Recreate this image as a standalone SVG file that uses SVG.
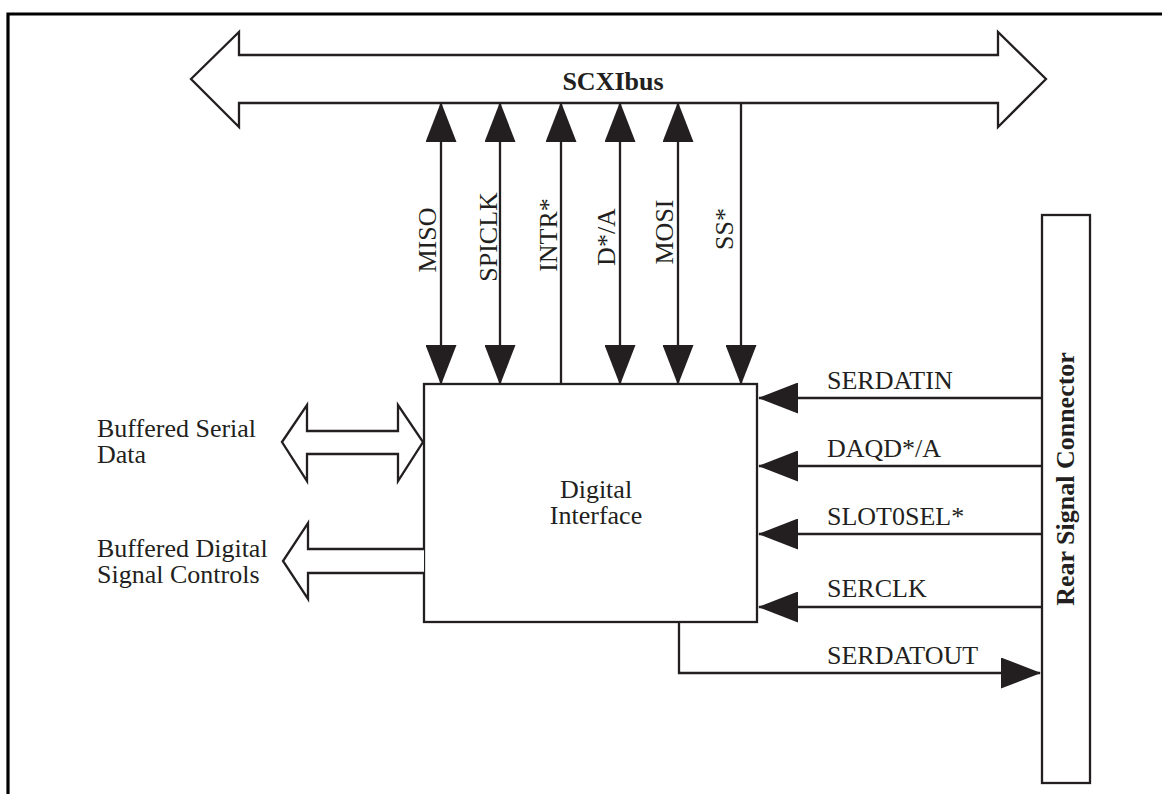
<svg xmlns="http://www.w3.org/2000/svg" width="1162" height="794" viewBox="0 0 1162 794">
<style>
.ln{stroke:#231f20;stroke-width:2.3;fill:none}
.ol{stroke:#231f20;stroke-width:2.3;fill:#fff;stroke-linejoin:miter}
.t{font-family:"Liberation Serif","Times New Roman",serif;font-size:26px;fill:#231f20}
.b{font-weight:bold}
</style>
<defs>
<marker id="ah" markerUnits="userSpaceOnUse" markerWidth="40" markerHeight="31" viewBox="0 0 40 31" refX="39" refY="15.5" orient="auto-start-reverse">
<path d="M0,0 L40,15.5 L0,31 z" fill="#231f20"/>
</marker>
</defs>
<rect width="1162" height="794" fill="#fff"/>
<path d="M8,794 V14 H1162" stroke="#000" stroke-width="3.2" fill="none"/>

<g id="scxibus">
<polygon class="ol" points="191,79 239,32 239,55 998,55 998,32 1046,79 998,127 998,103 239,103 239,127"/>
<text class="t b" x="613" y="90" text-anchor="middle">SCXIbus</text>
</g>

<g id="digital-interface">
<rect class="ol" x="424" y="384" width="333" height="238"/>
<text class="t" text-anchor="middle"><tspan x="596" y="498">Digital</tspan><tspan x="596" y="524">Interface</tspan></text>
</g>

<g id="rear-signal-connector">
<rect class="ol" x="1042" y="215" width="48" height="568"/>
<text class="t b" transform="translate(1074,479) rotate(-90)" text-anchor="middle">Rear Signal Connector</text>
</g>

<g id="buffered-serial-data">
<polygon class="ol" points="282,442 307,405 307,431 398,431 398,405 423,442 398,481 398,454 307,454 307,481"/>
<text class="t"><tspan x="97" y="437">Buffered Serial</tspan><tspan x="97" y="463">Data</tspan></text>
</g>

<g id="buffered-digital-signal-controls">
<path class="ol" d="M424,549 H308 V523 L283,561 L308,599 V573 H424"/>
<text class="t"><tspan x="97" y="557">Buffered Digital</tspan><tspan x="97" y="583">Signal Controls</tspan></text>
</g>

<g id="connectors">
<line class="ln" x1="441" y1="103" x2="441" y2="384" marker-start="url(#ah)" marker-end="url(#ah)"/>
<line class="ln" x1="500" y1="103" x2="500" y2="384" marker-start="url(#ah)" marker-end="url(#ah)"/>
<line class="ln" x1="561" y1="384" x2="561" y2="103" marker-end="url(#ah)"/>
<line class="ln" x1="620" y1="103" x2="620" y2="384" marker-start="url(#ah)" marker-end="url(#ah)"/>
<line class="ln" x1="678" y1="103" x2="678" y2="384" marker-start="url(#ah)" marker-end="url(#ah)"/>
<line class="ln" x1="741" y1="103" x2="741" y2="384" marker-end="url(#ah)"/>

<line class="ln" x1="1042" y1="398" x2="759" y2="398" marker-end="url(#ah)"/>
<line class="ln" x1="1042" y1="466" x2="759" y2="466" marker-end="url(#ah)"/>
<line class="ln" x1="1042" y1="534" x2="759" y2="534" marker-end="url(#ah)"/>
<line class="ln" x1="1042" y1="607" x2="759" y2="607" marker-end="url(#ah)"/>
<path class="ln" d="M679,622 V673 H1040" marker-end="url(#ah)"/>

<text class="t" transform="translate(436,240) rotate(-90)" text-anchor="middle">MISO</text>
<text class="t" transform="translate(497,237) rotate(-90)" text-anchor="middle">SPICLK</text>
<text class="t" transform="translate(557,235) rotate(-90)" text-anchor="middle">INTR*</text>
<text class="t" transform="translate(615,237) rotate(-90)" text-anchor="middle">D*/A</text>
<text class="t" transform="translate(673,232) rotate(-90)" text-anchor="middle">MOSI</text>
<text class="t" transform="translate(733,229) rotate(-90)" text-anchor="middle">SS*</text>

<text class="t" x="827" y="389">SERDATIN</text>
<text class="t" x="827" y="457">DAQD*/A</text>
<text class="t" x="827" y="525">SLOT0SEL*</text>
<text class="t" x="827" y="597">SERCLK</text>
<text class="t" x="827" y="664">SERDATOUT</text>
</g>
</svg>
